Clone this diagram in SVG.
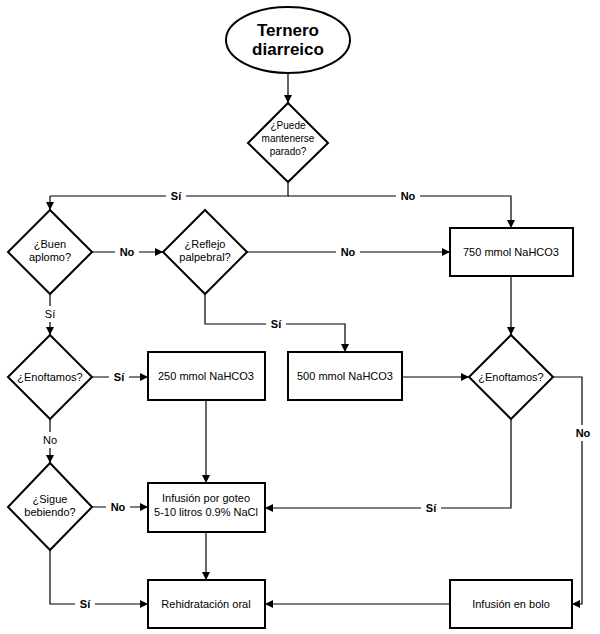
<svg xmlns="http://www.w3.org/2000/svg" width="600" height="634" viewBox="0 0 600 634">
<defs>
<marker id="a" viewBox="0 0 10 10" refX="10" refY="5" markerWidth="7" markerHeight="7" orient="auto-start-reverse"><path d="M0,0L10,5L0,10z" fill="#000"/></marker>
</defs>
<style>
.s{fill:#fff;stroke:#000;stroke-width:2}
.c{fill:none;stroke:#000;stroke-width:1.2}
.c2{fill:none;stroke:#000;stroke-width:1.2;marker-end:url(#a)}
text{font-family:"Liberation Sans",Arial,sans-serif;font-size:11px;text-anchor:middle;fill:#000}
.b{font-weight:bold}
.lb{fill:#fff;stroke:none}
</style>
<rect width="600" height="634" fill="#fff"/>
<g id="connectors">
<path class="c2" d="M288,73V103"/>
<path class="c" d="M288,182V196H50"/>
<path class="c2" d="M50,196V210"/>
<path class="c2" d="M288,196H511V228"/>
<path class="c2" d="M92,252H163"/>
<path class="c2" d="M247,252H450"/>
<path class="c2" d="M205,294V324H345V352"/>
<path class="c2" d="M50,294V335"/>
<path class="c2" d="M92,377H148"/>
<path class="c2" d="M402,377H469"/>
<path class="c2" d="M511,276V335"/>
<path class="c2" d="M553,377H582V604H572"/>
<path class="c2" d="M511,419V508H265"/>
<path class="c2" d="M50,419V463"/>
<path class="c2" d="M92,507H148"/>
<path class="c2" d="M206,400V483"/>
<path class="c2" d="M206,532V580"/>
<path class="c2" d="M50,550V604H148"/>
<path class="c2" d="M450,604H265"/>
<g class="b">
<rect class="lb" x="166" y="188" width="20" height="16"/><text x="176" y="200">Sí</text>
<rect class="lb" x="396" y="188" width="24" height="16"/><text x="408" y="200">No</text>
<rect class="lb" x="115" y="244" width="24" height="16"/><text x="127" y="256">No</text>
<rect class="lb" x="336" y="244" width="24" height="16"/><text x="348" y="256">No</text>
<rect class="lb" x="266" y="316" width="20" height="16"/><text x="276" y="328">Sí</text>
<rect class="lb" x="40" y="306" width="20" height="16"/><text x="50" y="318" style="font-weight:normal">Sí</text>
<rect class="lb" x="109" y="369" width="20" height="16"/><text x="119" y="381">Sí</text>
<rect class="lb" x="571" y="425" width="24" height="16"/><text x="583" y="437">No</text>
<rect class="lb" x="38" y="432" width="24" height="16"/><text x="50" y="444" style="font-weight:normal">No</text>
<rect class="lb" x="106" y="499" width="24" height="16"/><text x="118" y="511">No</text>
<rect class="lb" x="421" y="500" width="20" height="16"/><text x="431" y="512">Sí</text>
<rect class="lb" x="75" y="596" width="20" height="16"/><text x="85" y="608">Sí</text>
</g>
</g>
<g id="start"><ellipse class="s" cx="288" cy="40" rx="62" ry="33"/><text class="b" x="288" y="36" style="font-size:17px">Ternero</text><text class="b" x="288" y="55" style="font-size:17px">diarreico</text></g>
<g id="d1"><path class="s" d="M288,103L328,143L288,182L248,143Z"/><text x="288" y="129" style="font-size:10px">¿Puede</text><text x="288" y="142" style="font-size:10px">mantenerse</text><text x="288" y="155" style="font-size:10px">parado?</text></g>
<g id="d2"><path class="s" d="M50,210L92,252L50,294L8,252Z"/><text x="50" y="248">¿Buen</text><text x="50" y="261">aplomo?</text></g>
<g id="d3"><path class="s" d="M205,210L247,252L205,294L163,252Z"/><text x="205" y="248">¿Reflejo</text><text x="205" y="261">palpebral?</text></g>
<g id="b750"><rect class="s" x="450" y="228" width="123" height="48"/><text x="511" y="256">750 mmol NaHCO3</text></g>
<g id="d4"><path class="s" d="M50,335L92,377L50,419L8,377Z"/><text x="50" y="381">¿Enoftamos?</text></g>
<g id="b250"><rect class="s" x="148" y="352" width="117" height="48"/><text x="206" y="380">250 mmol NaHCO3</text></g>
<g id="b500"><rect class="s" x="288" y="352" width="114" height="48"/><text x="345" y="380">500 mmol NaHCO3</text></g>
<g id="d5"><path class="s" d="M511,335L553,377L511,419L469,377Z"/><text x="511" y="381">¿Enoftamos?</text></g>
<g id="d6"><path class="s" d="M50,463L92,507L50,550L8,507Z"/><text x="50" y="503">¿Sigue</text><text x="50" y="516">bebiendo?</text></g>
<g id="binf"><rect class="s" x="148" y="483" width="117" height="49"/><text x="206" y="502">Infusión por goteo</text><text x="206" y="516">5-10 litros 0.9% NaCl</text></g>
<g id="brehid"><rect class="s" x="148" y="580" width="117" height="48"/><text x="206" y="608">Rehidratación oral</text></g>
<g id="bbolo"><rect class="s" x="450" y="580" width="122" height="48"/><text x="511" y="608">Infusión en bolo</text></g>
</svg>
